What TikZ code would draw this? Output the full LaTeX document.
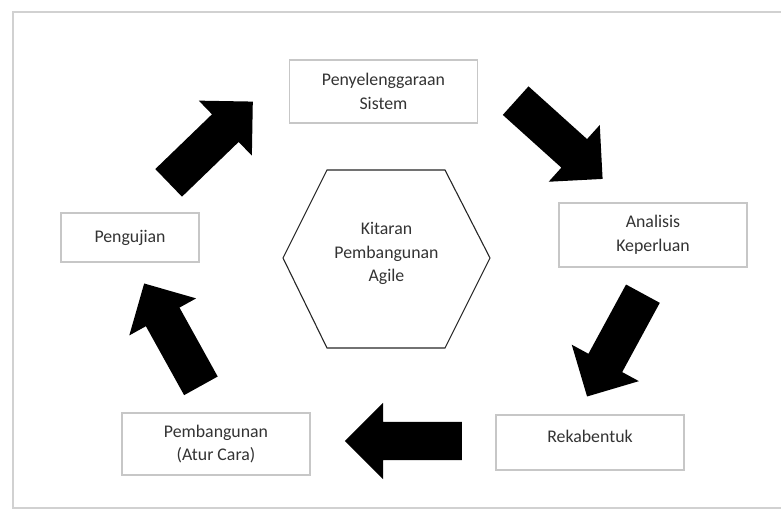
\documentclass[tikz,border=0pt]{standalone}
\usepackage{fontspec}
\setmainfont{Carlito}
\usetikzlibrary{shapes.arrows}

\begin{document}
\begin{tikzpicture}[x=1pt, y=-1pt, box/.style={rectangle, draw=black!22, line width=1.5pt, fill=white, text=black!80, align=center, font=\fontsize{17.8}{23.5}\selectfont, minimum width=188pt, inner sep=0pt}, hubtext/.style={text=black!80, align=center, font=\fontsize{17.8}{23.5}\selectfont, inner sep=0pt}, hexline/.style={draw=black!85, line width=1.1pt}, bigarrow/.style={single arrow, fill=black, draw=none, inner sep=0pt, inner ysep=19pt, single arrow head extend=19pt, minimum height=117pt, anchor=tail}, frameline/.style={draw=black!18, line width=1.5pt}]
    \useasboundingbox (0,0) rectangle (781,511);

    %Frame
    \draw[frameline] (13,12) rectangle (800,508);

    %Nodes
    \node[box, minimum height=63pt](penyelenggaraan) at (383.5,91.5){Penyelenggaraan\\Sistem};
    \node[box, minimum height=64pt](analisis) at (653,235){Analisis\\Keperluan};
    \node[box, minimum height=55pt, text depth=13pt](rekabentuk) at (590,442.5){Rekabentuk};
    \node[box, minimum height=62pt](pembangunan) at (216,444){Pembangunan\\(Atur Cara)};
    \node[box, minimum width=138pt, minimum height=49pt](pengujian) at (130,237.5){Pengujian};

    \node[hubtext](kitaran) at (386.5,253.5){Kitaran\\Pembangunan\\Agile};
    \draw[hexline] ([shift={(-103.5,4.5)}]kitaran.center) -- ([shift={(-59.5,-83.5)}]kitaran.center) -- ([shift={(58.5,-83.5)}]kitaran.center) -- ([shift={(103.5,4.5)}]kitaran.center) -- ([shift={(58.5,94.5)}]kitaran.center) -- ([shift={(-59.5,94.5)}]kitaran.center) -- cycle;

    %Arrows
    \node[bigarrow, rotate=-42](arrow_analisis) at (515.5,100.5){};
    \node[bigarrow, rotate=-118.5](arrow_rekabentuk) at (643,293.5){};
    \node[bigarrow, rotate=180](arrow_pembangunan) at (462,441){};
    \node[bigarrow, rotate=119](arrow_pengujian) at (201,386){};
    \node[bigarrow, rotate=44](arrow_penyelenggaraan) at (168.5,183){};

\end{tikzpicture}
\end{document}
